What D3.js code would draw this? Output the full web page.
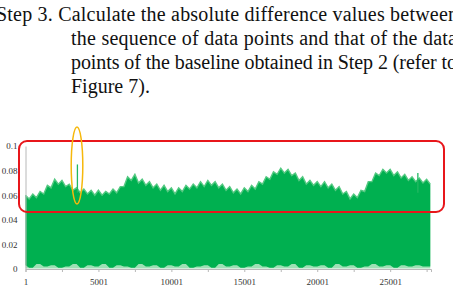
<!DOCTYPE html>
<html><head><meta charset="utf-8">
<script src="https://cdn.jsdelivr.net/npm/d3@7"></script>
<style>
html,body{margin:0;padding:0;background:#fff;overflow:hidden;}
svg{display:block;}
</style></head>
<body>
<svg id="c" width="453" height="306"></svg>
<script>
// ---- text above the figure ----
const paragraphLines = [
  "Step 3. Calculate the absolute difference values between",
  "the sequence of data points and that of the data",
  "points of the baseline obtained in Step 2 (refer to",
  "Figure 7)."
];

// ---- data ----
const sampleStep = 250;          // index spacing of the envelope samples
const upperValues = [
  0.060,0.057,0.061,0.058,0.063,0.061,0.068,0.066,0.073,0.069,
  0.072,0.067,0.069,0.064,0.066,0.062,0.065,0.061,0.064,0.060,
  0.064,0.060,0.063,0.061,0.065,0.062,0.067,0.067,0.075,0.072,
  0.077,0.070,0.073,0.068,0.071,0.066,0.069,0.064,0.068,0.063,
  0.066,0.061,0.066,0.063,0.068,0.065,0.069,0.066,0.071,0.067,
  0.072,0.068,0.071,0.066,0.069,0.064,0.067,0.062,0.065,0.061,
  0.066,0.063,0.068,0.065,0.071,0.069,0.075,0.073,0.079,0.077,
  0.082,0.078,0.081,0.076,0.078,0.072,0.075,0.069,0.072,0.068,
  0.071,0.067,0.071,0.066,0.069,0.064,0.067,0.061,0.063,0.057,
  0.061,0.058,0.064,0.063,0.071,0.071,0.078,0.076,0.081,0.078,
  0.081,0.076,0.079,0.074,0.077,0.072,0.075,0.071,0.074,0.070,
  0.073,0.069
];
const lowerStep = 500;
const lowerValues = [
  0.003,0.001,0.004,0.002,0.003,0.001,0.002,0.004,0.001,0.003,
  0.002,0.004,0.001,0.003,0.002,0.001,0.004,0.002,0.003,0.001,
  0.003,0.002,0.004,0.001,0.002,0.003,0.001,0.004,0.002,0.003,
  0.001,0.002,0.004,0.002,0.001,0.003,0.002,0.004,0.001,0.003,
  0.002,0.003,0.001,0.004,0.002,0.003,0.001,0.002,0.004,0.002,
  0.003,0.001,0.003,0.002,0.003,0.002
];
const spikeIndex = [3560, 26900];
const spikeValue = [0.085, 0.078];

const xMax = 27801;
const xTicks = [1, 5001, 10001, 15001, 20001, 25001];
const xMinorTicks = [1, 2501, 5001, 7501, 10001, 12501, 15001, 17501, 20001, 22501, 25001, 27501];
const yTicks = [0, 0.02, 0.04, 0.06, 0.08, 0.1];
const yTickLabels = ["0", "0.02", "0.04", "0.06", "0.08", "0.1"];

// ---- drawing ----
const svg = d3.select("#c");

const lineStart = [-4, 71, 71, 71];
const lineWidth = [462, 386, 386, null];
svg.selectAll("text.para").data(paragraphLines).join("text")
  .attr("class", "para")
  .attr("x", (d, i) => lineStart[i])
  .attr("y", (d, i) => 21 + i * 24)
  .attr("font-family", "'Liberation Serif', 'Times New Roman', serif")
  .attr("font-size", 20)
  .attr("fill", "#111")
  .each(function (d, i) {
    if (lineWidth[i]) d3.select(this).attr("textLength", lineWidth[i]).attr("lengthAdjust", "spacing");
  })
  .text(d => d);

const x = d3.scaleLinear().domain([1, xMax]).range([25.5, 431]);
const y = d3.scaleLinear().domain([0, 0.1]).range([269, 146]);

const upper = upperValues.map((v, i) => ({ idx: 1 + i * sampleStep, v }));
const lower = lowerValues.map((v, i) => ({ idx: 1 + i * lowerStep, v }));
const lowerAt = idx => {
  const k = Math.min(lower.length - 1, Math.round((idx - 1) / lowerStep));
  return lower[k].v;
};

// light band behind (shows at the noisy bottom edge)
svg.append("path")
  .datum(upper)
  .attr("d", d3.area().x(d => x(d.idx)).y0(y(0.0005)).y1(d => y(d.v)))
  .attr("fill", "#9fe0b6");

svg.append("path")
  .datum(upper)
  .attr("d", d3.area().x(d => x(d.idx)).y0(d => y(lowerAt(d.idx))).y1(d => y(d.v)))
  .attr("fill", "#00b050");

// light fringe along the top
svg.append("path")
  .datum(upper)
  .attr("d", d3.line().x(d => x(d.idx)).y(d => y(d.v)))
  .attr("fill", "none")
  .attr("stroke", "#55c982")
  .attr("stroke-width", 1.4);

// isolated spikes
svg.selectAll("line.spike").data(spikeIndex).join("line")
  .attr("class", "spike")
  .attr("x1", d => x(d)).attr("x2", d => x(d))
  .attr("y1", y(0.062))
  .attr("y2", (d, i) => y(spikeValue[i]))
  .attr("stroke", "#22b862")
  .attr("stroke-width", 1.3);

// axes
const axisColor = "#b8b8b8";
const yAxis = svg.append("g").attr("transform", `translate(${x(1)},0)`)
  .call(d3.axisLeft(y).tickValues(yTicks).tickSize(0).tickPadding(8)
    .tickFormat((d, i) => yTickLabels[i]));
yAxis.select(".domain").attr("stroke", axisColor);
yAxis.selectAll("text").attr("font-family", "'Liberation Serif', serif")
  .attr("font-size", 9).attr("fill", "#333");

const xAxis = svg.append("g").attr("transform", `translate(0,${y(0)})`)
  .call(d3.axisBottom(x).tickValues(xMinorTicks).tickSize(3)
    .tickFormat(d => xTicks.includes(d) ? String(d) : ""));
xAxis.select(".domain").attr("stroke", axisColor);
xAxis.selectAll(".tick line").attr("stroke", axisColor);
xAxis.selectAll("text").attr("font-family", "'Liberation Serif', serif")
  .attr("font-size", 9).attr("fill", "#333").attr("dy", "1.1em");

// annotations
svg.append("rect")
  .attr("x", 19).attr("y", 141).attr("width", 425).attr("height", 71)
  .attr("rx", 8).attr("ry", 8)
  .attr("fill", "none").attr("stroke", "#e8161b").attr("stroke-width", 2);

svg.append("ellipse")
  .attr("cx", 77).attr("cy", 165.5).attr("rx", 5.8).attr("ry", 38.5)
  .attr("fill", "none").attr("stroke", "#f6b80c").attr("stroke-width", 1.5);
</script>
</body></html>
